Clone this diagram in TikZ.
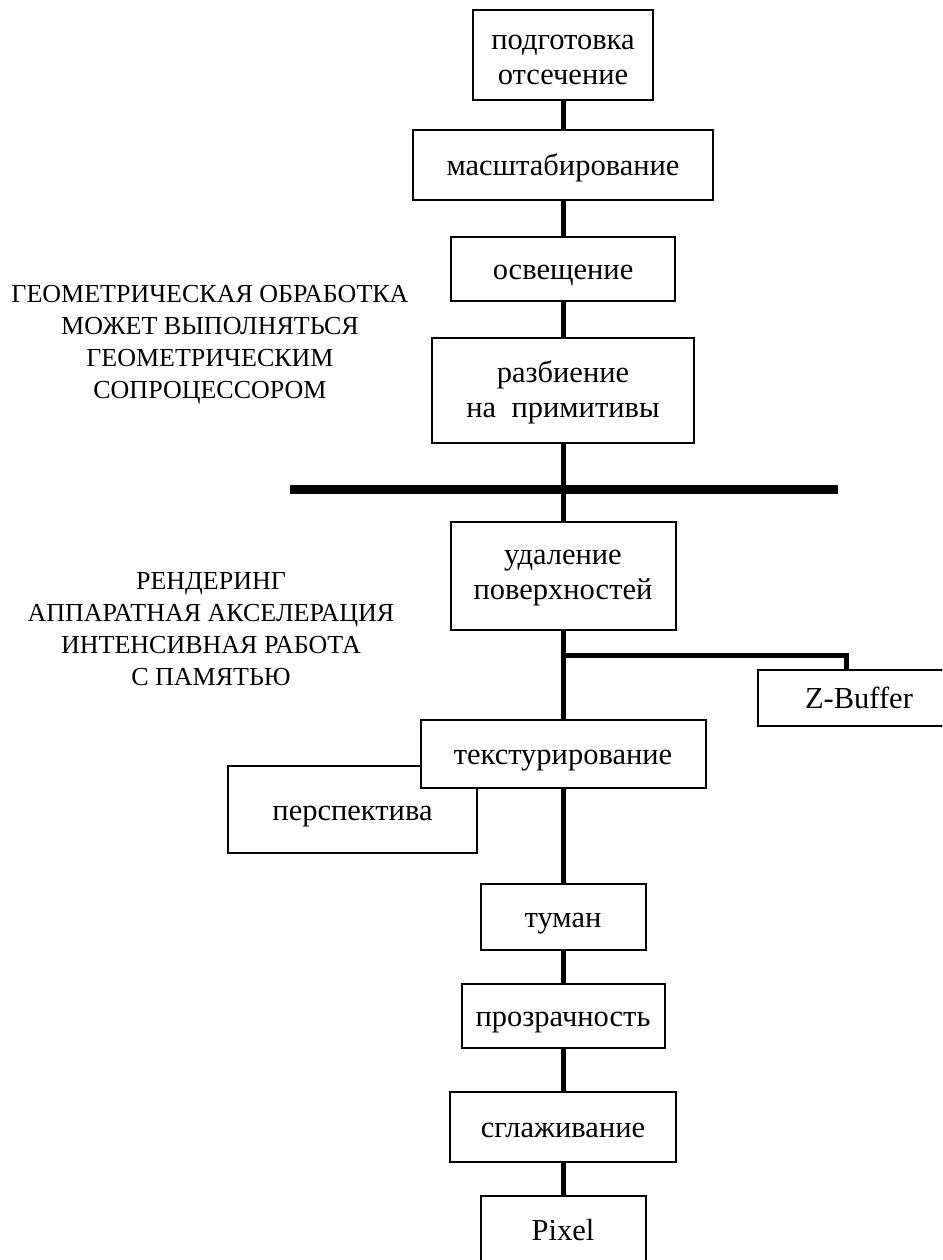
\documentclass[tikz,border=0pt]{standalone}
\usepackage{fontspec}
\setmainfont{Liberation Serif}
\usepackage{tikz}
\usetikzlibrary{calc}
\usetikzlibrary{positioning}

\tikzset{
  blk/.style={draw,line width=2pt,rectangle,fill=white,inner sep=0pt,align=center,
    font=\fontsize{30.5}{35}\selectfont,text height=26pt,text depth=5pt},
  twoline/.style={text height=#1,text depth=5pt},
  note/.style={align=center,inner sep=0pt,font=\fontsize{26}{32}\selectfont},
  link/.style={line width=5pt},
  bar/.style={line width=9pt}
}

\begin{document}
\begin{tikzpicture}[x=1pt,y=-1pt]

  \useasboundingbox (0,0) rectangle (942,1260);
  \clip (0,0) rectangle (942,1260);

  % geometry part
  \node [blk,twoline=64pt,minimum width=180pt,minimum height=90pt]  (prep)  at (563,55)    {подготовка\\отсечение};
  \node [blk,minimum width=300pt,minimum height=70pt]               (scale) at (563,165)   {масштабирование};
  \node [blk,minimum width=224pt,minimum height=64pt]               (light) at (563,269)   {освещение};
  \node [blk,twoline=59pt,minimum width=262pt,minimum height=105pt] (split) at (563,390.5) {разбиение\\на\ \ примитивы};

  \node [note] (geomnote) at (210,345) {ГЕОМЕТРИЧЕСКАЯ ОБРАБОТКА\\МОЖЕТ ВЫПОЛНЯТЬСЯ\\ГЕОМЕТРИЧЕСКИМ\\СОПРОЦЕССОРОМ};

  \coordinate (barL) at (290,489);
  \coordinate (barR) at (838,489);

  % rendering part
  \node [blk,twoline=52pt,minimum width=225pt,minimum height=108pt] (hsr)   at (563,576)  {удаление\\поверхностей};
  \node [blk,minimum width=202pt,minimum height=56pt]  (zbuf)  at (859,698)  {Z-Buffer};
  \node [blk,minimum width=249pt,minimum height=87pt]  (persp) at (352.5,809.5) {перспектива};
  \node [blk,minimum width=285pt,minimum height=68pt]  (tex)   at (563,754)  {текстурирование};
  \node [blk,minimum width=165pt,minimum height=66pt]  (fog)   at (563,917)  {туман};
  \node [blk,minimum width=203pt,minimum height=64pt]  (alpha) at (563,1016) {прозрачность};
  \node [blk,minimum width=226pt,minimum height=70pt]  (aa)    at (563,1127) {сглаживание};
  \node [blk,minimum width=165pt,minimum height=68pt]  (pix)   at (563,1230) {Pixel};

  \node [note] (rendnote) at (211,629) {РЕНДЕРИНГ\\АППАРАТНАЯ АКСЕЛЕРАЦИЯ\\ИНТЕНСИВНАЯ РАБОТА\\С ПАМЯТЬЮ};

  \coordinate (zj)    at (563,655);
  \coordinate (zdrop) at (846,655);

  \path [draw,link]
    (prep)  edge (scale)
    (scale) edge (light)
    (light) edge (split)
    (split) edge (hsr)
    (hsr)   edge (tex)
    (tex)   edge (fog)
    (fog)   edge (alpha)
    (alpha) edge (aa)
    (aa)    edge (pix);

  \draw [link,line join=miter] (zj) -- (zdrop) -- (zdrop |- zbuf.north);

  \draw [bar] (barL) -- (barR);

\end{tikzpicture}
\end{document}
